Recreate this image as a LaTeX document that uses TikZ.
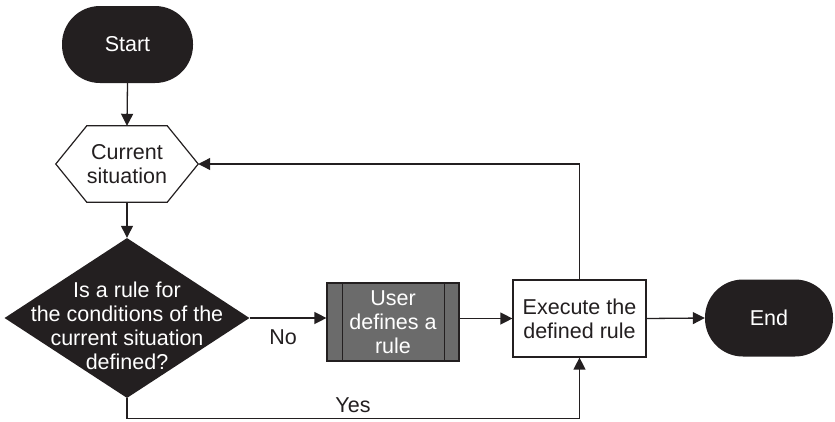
\documentclass[tikz,border=0pt]{standalone}
\usepackage{fontspec}
\setmainfont{Liberation Sans}
\usetikzlibrary{arrows.meta,shapes.geometric,calc}
\definecolor{ink}{HTML}{231F20}
\definecolor{procgray}{HTML}{6B6B6B}
\begin{document}
\begin{tikzpicture}[x=1pt,y=-1pt,
  every node/.style={font=\fontsize{21.5}{24}\selectfont, align=center, inner sep=0pt},
  conn/.style={draw=ink, line width=1.3pt},
  arr/.style={conn, -{Triangle[length=12pt,width=12pt]}},
  terminal/.style={fill=ink, text=white, rounded corners=38pt, minimum height=77pt},
  procbox/.style={draw=ink, line width=1.2pt, fill=white, text=ink, minimum width=133pt, minimum height=77pt},
  lbl/.style={text=ink}]
\useasboundingbox (0,0) rectangle (835,421);

% start terminal
\node[terminal, minimum width=131pt] (start) at (127.5,44.5) {Start};

% current situation (hexagon drawn around an invisible box)
\node[minimum width=80pt, minimum height=76pt, text=ink] (cur) at (127,164) {Current\\situation};
\coordinate (curE) at ($(cur.east)+(31pt,0pt)$);
\coordinate (curW) at ($(cur.west)+(-31pt,0pt)$);
\draw[draw=ink, line width=1.2pt] (cur.north west) -- (cur.north east) -- (curE)
  -- (cur.south east) -- (cur.south west) -- (curW) -- cycle;

% decision diamond
\node[diamond, fill=ink, minimum width=245pt, minimum height=160pt] (dec) at (127,318) {};
\node[text=white] (dectext) at (127,326) {Is a rule for\\the conditions of the\\current situation\\defined?};

% predefined process
\node[draw=ink, line width=1.2pt, fill=procgray, text=white, minimum width=132pt, minimum height=78pt] (user) at (393,322) {User\\defines a\\rule};
\draw[ink, line width=1.2pt] ($(user.north west)+(16pt,0pt)$) -- ($(user.south west)+(16pt,0pt)$);
\draw[ink, line width=1.2pt] ($(user.north east)+(-15pt,0pt)$) -- ($(user.south east)+(-15pt,0pt)$);

% execute box
\node[procbox] (exec) at (579.5,318.5) {Execute the\\defined rule};

% end terminal
\node[terminal, minimum width=128pt] (end) at (769,318) {End};

% connectors
\draw[arr] (start.south) -- (cur.north);
\draw[arr] (cur.south) -- (dec.north);
\draw[arr] (dec.east) -- (user.west |- dec.east);
\draw[arr] (user.east |- exec.west) -- (exec.west);
\draw[arr] (exec.east) -- (end.west);
\draw[arr] (exec.north) |- (curE);
\coordinate (yesturn) at ($(dec.south)+(0pt,-20pt)$);
\draw[arr] (dec.south) -- (yesturn) -| (exec.south);

% branch labels
\node[lbl] (nolbl) at (283,337) {No};
\node[lbl] (yeslbl) at (353,405) {Yes};
\end{tikzpicture}
\end{document}
